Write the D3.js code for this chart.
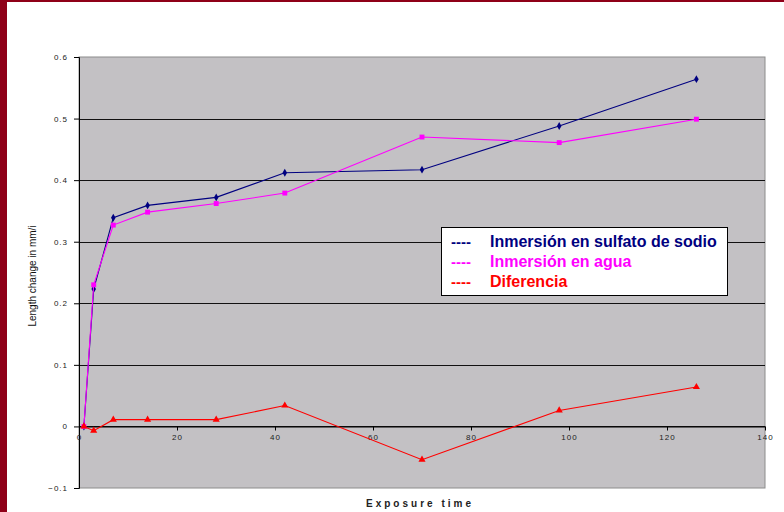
<!DOCTYPE html>
<html><head><meta charset="utf-8">
<script src="https://cdn.jsdelivr.net/npm/d3@7"></script>
<style>body{margin:0;background:#fff}svg{display:block}</style>
</head><body>
<svg id="c" width="784" height="512"></svg>
<script>
const days = [1, 3, 7, 14, 28, 42, 70, 98, 126];
const sulfato = [0, 0.223, 0.339, 0.359, 0.372, 0.412, 0.417, 0.488, 0.564];
const agua = [0, 0.230, 0.327, 0.348, 0.362, 0.379, 0.470, 0.461, 0.499];
const diferencia = [0, -0.007, 0.011, 0.011, 0.011, 0.034, -0.054, 0.026, 0.064];
const xTicks = [0, 20, 40, 60, 80, 100, 120, 140];
const yTicks = [-0.1, 0, 0.1, 0.2, 0.3, 0.4, 0.5, 0.6];
const seriesNames = ["Inmersión en sulfato de sodio", "Inmersión en agua", "Diferencia"];
const seriesColors = ["#000080", "#ff00ff", "#ff0000"];

const svg = d3.select("#c");
svg.append("rect").attr("x",0).attr("y",0).attr("width",784).attr("height",2).attr("fill","#8f0018");
svg.append("rect").attr("x",0).attr("y",0).attr("width",7).attr("height",512).attr("fill","#8f0018");

const L=79, R=765, T=57, B=488;
const x = d3.scaleLinear().domain([0,140]).range([L,R]);
const y = d3.scaleLinear().domain([-0.1,0.6]).range([B,T]);

svg.append("rect").attr("x",L).attr("y",T).attr("width",R-L).attr("height",B-T)
  .attr("fill","#c3c1c4").attr("stroke","#8c8c8c").attr("stroke-width",1);

svg.append("g").selectAll("line").data(yTicks.filter(v=>v>-0.1 && v<0.6)).join("line")
  .attr("x1",L).attr("x2",R).attr("y1",d=>Math.round(y(d))+0.5).attr("y2",d=>Math.round(y(d))+0.5)
  .attr("stroke","#111").attr("stroke-width",1);

const yAxis = d3.axisLeft(y).tickValues(yTicks).tickSize(5).tickPadding(6)
  .tickFormat(d=>d===0?"0":d3.format(".1f")(d));
const gy = svg.append("g").attr("transform",`translate(${L},0)`).call(yAxis);
gy.select(".domain").attr("stroke","#000");
gy.selectAll(".tick line").attr("stroke","#000");
gy.selectAll("text").attr("font-family","Arial, Liberation Sans, sans-serif").attr("font-size",8)
  .attr("fill","#222").style("letter-spacing","1px");

const xAxis = d3.axisBottom(x).tickValues(xTicks).tickSize(4).tickPadding(4).tickSizeOuter(0);
const gx = svg.append("g").attr("transform",`translate(0,${Math.round(y(0))+0.5})`).call(xAxis);
gx.select(".domain").attr("stroke","#000");
gx.selectAll(".tick line").attr("stroke","#000");
gx.selectAll("text").attr("font-family","Arial, Liberation Sans, sans-serif").attr("font-size",8)
  .attr("fill","#222").style("letter-spacing","1px");

const allSeries = [sulfato, agua, diferencia];
const line = d3.line().x(d=>x(d[0])).y(d=>y(d[1]));
allSeries.forEach((vals,i)=>{
  const pts = days.map((d,j)=>[d,vals[j]]);
  svg.append("path").datum(pts).attr("d",line).attr("fill","none")
    .attr("stroke",seriesColors[i]).attr("stroke-width",1.1);
  const g = svg.append("g");
  const sym = [d3.symbolDiamond, d3.symbolSquare, d3.symbolTriangle][i];
  const size = [18, 24, 22][i];
  g.selectAll("path").data(pts).join("path")
    .attr("transform",d=>`translate(${x(d[0])},${y(d[1])})`)
    .attr("d",d3.symbol(sym,size)).attr("fill",seriesColors[i]);
});

const lg = svg.append("g");
lg.append("rect").attr("x",441.5).attr("y",227.5).attr("width",286).attr("height",68)
  .attr("fill","#fff").attr("stroke","#000").attr("stroke-width",1);
seriesNames.forEach((n,i)=>{
  const yy = 247 + i*20;
  lg.append("text").attr("x",451).attr("y",yy).text("----").attr("fill",seriesColors[i])
    .attr("font-family","Arial, Liberation Sans, sans-serif").attr("font-size",15).attr("font-weight","bold");
  lg.append("text").attr("x",490).attr("y",yy).text(n).attr("fill",seriesColors[i])
    .attr("font-family","Arial, Liberation Sans, sans-serif").attr("font-size",16).attr("font-weight","bold");
});

svg.append("text").attr("transform","translate(36,276) rotate(-90)").attr("text-anchor","middle")
  .attr("font-family","Arial, Liberation Sans, sans-serif").attr("font-size",10).attr("fill","#111")
  .text("Length change in mm/i");
svg.append("text").attr("x",420).attr("y",507).attr("text-anchor","middle")
  .attr("font-family","Arial, Liberation Sans, sans-serif").attr("font-size",10).attr("font-weight","bold")
  .attr("fill","#222").style("letter-spacing","3px").text("Exposure time");
</script>
</body></html>
